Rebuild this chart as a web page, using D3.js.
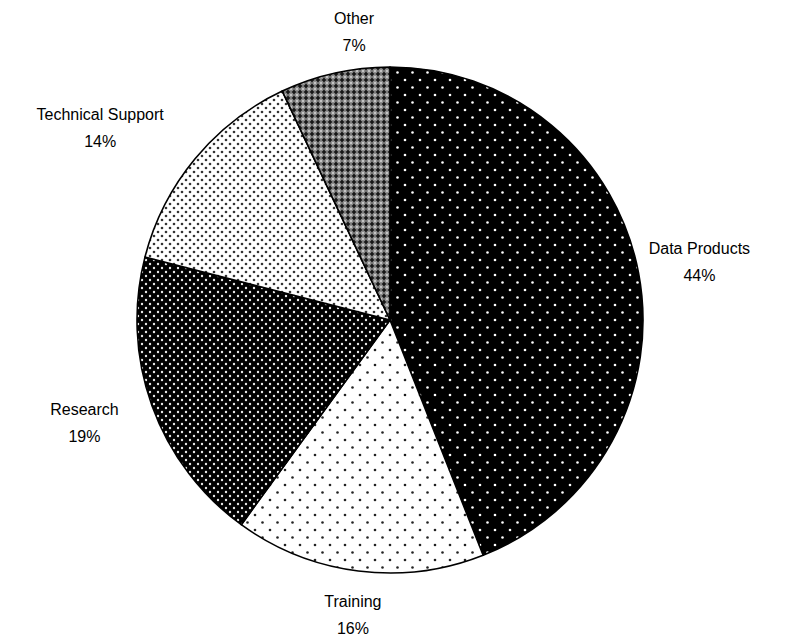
<!DOCTYPE html>
<html>
<head>
<meta charset="utf-8">
<script src="https://cdn.jsdelivr.net/npm/d3@7"></script>
<style>
  body { margin: 0; background: #fff; }
  svg { display: block; }
  text { font-family: "Liberation Sans", Arial, sans-serif; font-size: 16px; fill: #000; }
</style>
</head>
<body>
<svg width="790" height="638"></svg>
<script>
// slice data, clockwise from 12 o'clock
const categories = ["Data Products", "Training", "Research", "Technical Support", "Other"];
const shares = [44, 16, 19, 14, 7];
const percentLabels = ["44%", "16%", "19%", "14%", "7%"];

// label placement (layout only): extra turn in degrees and distance from centre
const labelTurn = [0, 0, 1.4, -6, 5.5];
const labelDist = [315, 296, 322, 348, 291];

const svg = d3.select("svg");
const cx = 390, cy = 320, radius = 253;

// fill patterns, one per slice
const defs = svg.append("defs");

function dotPattern(id, size, bg, dot, r) {
    const p = defs.append("pattern")
        .attr("id", id)
        .attr("patternUnits", "userSpaceOnUse")
        .attr("width", size)
        .attr("height", size);
    p.append("rect").attr("width", size).attr("height", size).attr("fill", bg);
    [[0, 0], [size, 0], [0, size], [size, size], [size / 2, size / 2]].forEach(([x, y]) => {
        p.append("circle").attr("cx", x).attr("cy", y).attr("r", r).attr("fill", dot);
    });
}

dotPattern("pat0", 15, "#000", "#fff", 1.3);
dotPattern("pat1", 15, "#fff", "#222", 1.3);
dotPattern("pat2", 8, "#000", "#e8e8e8", 1.2);
dotPattern("pat3", 8, "#fff", "#333", 1.3);

// "Other": grey trellis with dark crosses and light dots
const other = defs.append("pattern")
    .attr("id", "pat4")
    .attr("patternUnits", "userSpaceOnUse")
    .attr("width", 6)
    .attr("height", 6);
other.append("rect").attr("width", 6).attr("height", 6).attr("fill", "#8c8c8c");
other.append("path")
    .attr("d", "M0,0 m-2.2,-0.8 h4.4 v1.6 h-4.4 Z M-0.8,-2.2 h1.6 v4.4 h-1.6 Z")
    .attr("fill", "#111");
[[6, 0], [0, 6], [6, 6]].forEach(([x, y]) => {
    other.append("path")
        .attr("transform", `translate(${x},${y})`)
        .attr("d", "M-2.2,-0.8 h4.4 v1.6 h-4.4 Z M-0.8,-2.2 h1.6 v4.4 h-1.6 Z")
        .attr("fill", "#111");
});
other.append("rect").attr("x", 2.3).attr("y", 2.3).attr("width", 1.4).attr("height", 1.4).attr("fill", "#fff");

const pie = d3.pie().sort(null).value(d => d)(shares);
const arc = d3.arc().innerRadius(0).outerRadius(radius);

const g = svg.append("g").attr("transform", `translate(${cx},${cy})`);

g.selectAll("path.slice")
    .data(pie)
    .join("path")
    .attr("class", "slice")
    .attr("d", arc)
    .attr("fill", (d, i) => `url(#pat${i})`)
    .attr("stroke", "#000")
    .attr("stroke-width", 1.6)
    .attr("stroke-linejoin", "round");

// labels
pie.forEach((d, i) => {
    const a = (d.startAngle + d.endAngle) / 2 + labelTurn[i] * Math.PI / 180;
    const x = Math.sin(a) * labelDist[i];
    const y = -Math.cos(a) * labelDist[i];
    const t = g.append("text").attr("text-anchor", "middle");
    t.append("tspan").attr("x", x).attr("y", y - 7).text(categories[i]);
    t.append("tspan").attr("x", x).attr("y", y + 20).text(percentLabels[i]);
});
</script>
</body>
</html>
